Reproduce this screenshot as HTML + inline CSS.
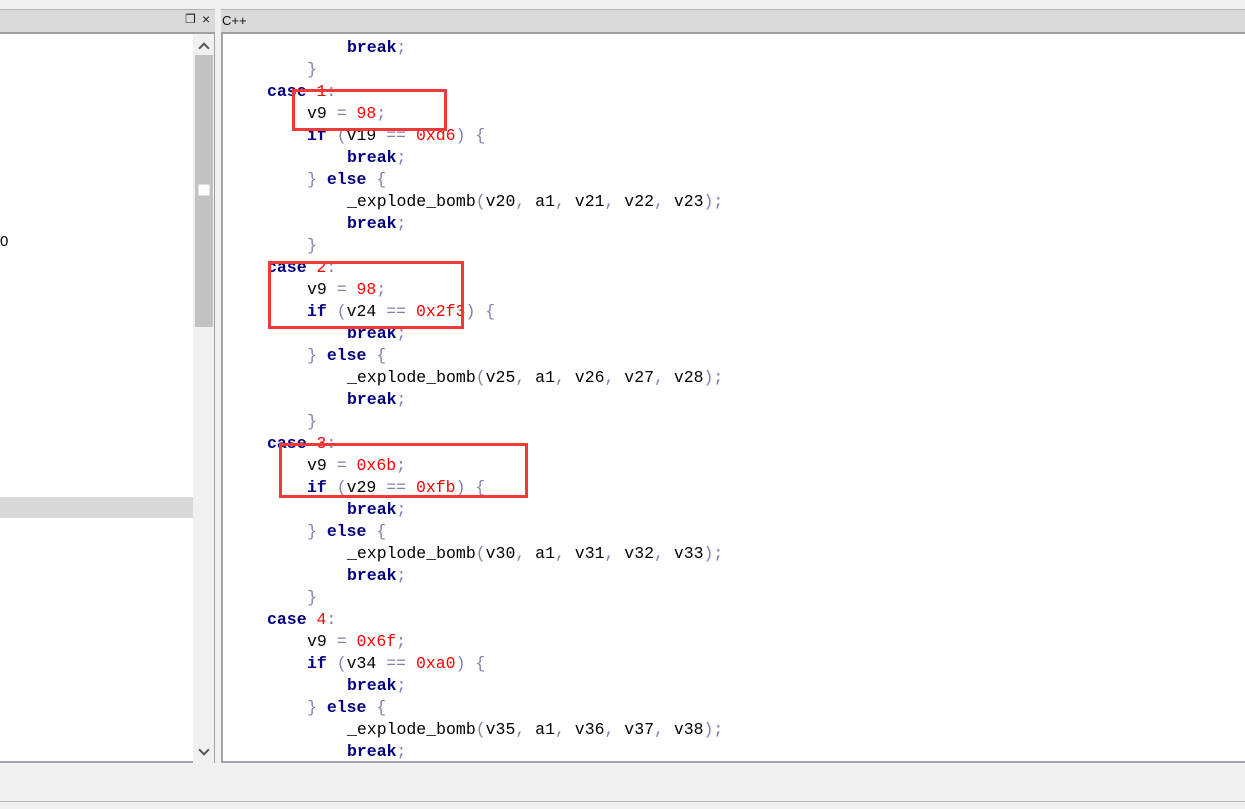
<!DOCTYPE html>
<html><head><meta charset="utf-8"><style>
html,body{margin:0;padding:0}
body{width:1245px;height:809px;position:relative;overflow:hidden;background:#f0f0f0;font-family:"Liberation Sans",sans-serif}
.abs{position:absolute}
.hdr{top:9px;height:22px;background:#dadada;border-top:1px solid #b4b4b4;border-bottom:2px solid #a0a0a0}
.panel{background:#fff}
.code{position:absolute;left:221px;top:34px;width:1024px;height:729px;overflow:hidden;background:#fff;border-left:2px solid #a0a4a8;border-bottom:2px solid #a0a4a8;box-sizing:border-box}
.inner{position:absolute;left:-2px;top:1px;width:1100px;height:760px}
.ln{position:absolute;white-space:pre;font-family:"Liberation Mono",monospace;font-size:16.5px;line-height:22px;color:#000}
.k{color:#000080;font-weight:bold}
.n{color:#ff0000}
.p{color:#8080b0}
.box{position:absolute;border:3px solid #f03a3a;box-sizing:border-box}
.chev{position:absolute;width:6px;height:6px;border-left:2px solid #555;border-top:2px solid #555}
</style></head><body>
<div class="abs hdr" style="left:0;width:215px"></div>
<div class="abs" style="left:185px;top:12px;font-size:12px;color:#222">&#x2752;</div>
<div class="abs" style="left:202px;top:11px;font-size:14px;color:#222">×</div>
<div class="abs hdr" style="left:221px;width:1024px"></div>
<div class="abs" style="left:222px;top:13px;font-size:13px;color:#111">C++</div>

<div class="abs panel" style="left:0;top:34px;width:215px;height:729px;border-right:2px solid #a0a4a8;border-bottom:2px solid #a0a4a8;box-sizing:border-box"></div>
<div class="abs" style="left:193px;top:34px;width:21px;height:729px;background:#f0f0f0"></div>
<div class="abs" style="left:195px;top:55px;width:18px;height:272px;background:#c2c2c2"></div>
<div class="abs" style="left:198px;top:184px;width:12px;height:12px;background:#fff;border:1px solid #ddd;box-sizing:border-box"></div>
<div class="chev" style="left:200px;top:44px;transform:rotate(45deg)"></div>
<div class="chev" style="left:200px;top:746px;transform:rotate(225deg)"></div>
<div class="abs" style="left:0;top:497px;width:193px;height:21px;background:#d9d9d9"></div>
<div class="abs" style="left:0;top:233px;font-size:15px;color:#000">0</div>

<div class="abs" style="left:0;top:801px;width:1245px;height:1px;background:#b8b8b8"></div>

<div class="code"><div class="inner">
<div class="ln" style="left:126px;top:2px"><span class="k">break</span><span class="p">;</span></div>
<div class="ln" style="left:86px;top:24px"><span class="p">}</span></div>
<div class="ln" style="left:46px;top:46px"><span class="k">case</span> <span class="n">1</span><span class="p">:</span></div>
<div class="ln" style="left:86px;top:68px">v9 <span class="p">=</span> <span class="n">98</span><span class="p">;</span></div>
<div class="ln" style="left:86px;top:90px"><span class="k">if</span> <span class="p">(</span>v19 <span class="p">==</span> <span class="n">0xd6</span><span class="p">)</span> <span class="p">{</span></div>
<div class="ln" style="left:126px;top:112px"><span class="k">break</span><span class="p">;</span></div>
<div class="ln" style="left:86px;top:134px"><span class="p">}</span> <span class="k">else</span> <span class="p">{</span></div>
<div class="ln" style="left:126px;top:156px">_explode_bomb<span class="p">(</span>v20<span class="p">,</span> a1<span class="p">,</span> v21<span class="p">,</span> v22<span class="p">,</span> v23<span class="p">);</span></div>
<div class="ln" style="left:126px;top:178px"><span class="k">break</span><span class="p">;</span></div>
<div class="ln" style="left:86px;top:200px"><span class="p">}</span></div>
<div class="ln" style="left:46px;top:222px"><span class="k">case</span> <span class="n">2</span><span class="p">:</span></div>
<div class="ln" style="left:86px;top:244px">v9 <span class="p">=</span> <span class="n">98</span><span class="p">;</span></div>
<div class="ln" style="left:86px;top:266px"><span class="k">if</span> <span class="p">(</span>v24 <span class="p">==</span> <span class="n">0x2f3</span><span class="p">)</span> <span class="p">{</span></div>
<div class="ln" style="left:126px;top:288px"><span class="k">break</span><span class="p">;</span></div>
<div class="ln" style="left:86px;top:310px"><span class="p">}</span> <span class="k">else</span> <span class="p">{</span></div>
<div class="ln" style="left:126px;top:332px">_explode_bomb<span class="p">(</span>v25<span class="p">,</span> a1<span class="p">,</span> v26<span class="p">,</span> v27<span class="p">,</span> v28<span class="p">);</span></div>
<div class="ln" style="left:126px;top:354px"><span class="k">break</span><span class="p">;</span></div>
<div class="ln" style="left:86px;top:376px"><span class="p">}</span></div>
<div class="ln" style="left:46px;top:398px"><span class="k">case</span> <span class="n">3</span><span class="p">:</span></div>
<div class="ln" style="left:86px;top:420px">v9 <span class="p">=</span> <span class="n">0x6b</span><span class="p">;</span></div>
<div class="ln" style="left:86px;top:442px"><span class="k">if</span> <span class="p">(</span>v29 <span class="p">==</span> <span class="n">0xfb</span><span class="p">)</span> <span class="p">{</span></div>
<div class="ln" style="left:126px;top:464px"><span class="k">break</span><span class="p">;</span></div>
<div class="ln" style="left:86px;top:486px"><span class="p">}</span> <span class="k">else</span> <span class="p">{</span></div>
<div class="ln" style="left:126px;top:508px">_explode_bomb<span class="p">(</span>v30<span class="p">,</span> a1<span class="p">,</span> v31<span class="p">,</span> v32<span class="p">,</span> v33<span class="p">);</span></div>
<div class="ln" style="left:126px;top:530px"><span class="k">break</span><span class="p">;</span></div>
<div class="ln" style="left:86px;top:552px"><span class="p">}</span></div>
<div class="ln" style="left:46px;top:574px"><span class="k">case</span> <span class="n">4</span><span class="p">:</span></div>
<div class="ln" style="left:86px;top:596px">v9 <span class="p">=</span> <span class="n">0x6f</span><span class="p">;</span></div>
<div class="ln" style="left:86px;top:618px"><span class="k">if</span> <span class="p">(</span>v34 <span class="p">==</span> <span class="n">0xa0</span><span class="p">)</span> <span class="p">{</span></div>
<div class="ln" style="left:126px;top:640px"><span class="k">break</span><span class="p">;</span></div>
<div class="ln" style="left:86px;top:662px"><span class="p">}</span> <span class="k">else</span> <span class="p">{</span></div>
<div class="ln" style="left:126px;top:684px">_explode_bomb<span class="p">(</span>v35<span class="p">,</span> a1<span class="p">,</span> v36<span class="p">,</span> v37<span class="p">,</span> v38<span class="p">);</span></div>
<div class="ln" style="left:126px;top:706px"><span class="k">break</span><span class="p">;</span></div>
</div></div>

<div class="box" style="left:292px;top:89px;width:155px;height:42px"></div>
<div class="box" style="left:268px;top:261px;width:196px;height:68px"></div>
<div class="box" style="left:279px;top:443px;width:249px;height:55px"></div>
</body></html>
